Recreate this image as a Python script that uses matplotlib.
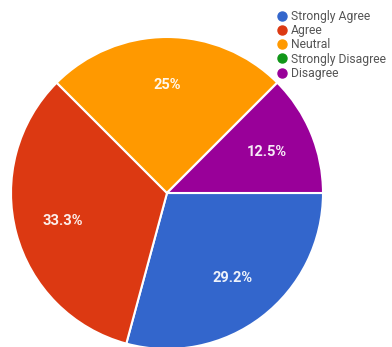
import matplotlib
matplotlib.use("Agg")
import matplotlib.pyplot as plt
from matplotlib.lines import Line2D

plt.rcParams['font.family'] = ['Roboto', 'DejaVu Sans']

categories = ["Strongly Agree", "Agree", "Neutral", "Strongly Disagree", "Disagree"]
percentages = [29.2, 33.3, 25.0, 0.0, 12.5]
colors = ["#3366CC", "#DC3912", "#FF9900", "#109618", "#990099"]

W, H = 392, 347
fig = plt.figure(figsize=(W / 100, H / 100), dpi=100)

cx, cy, r = 167, 193, 156
ax = fig.add_axes([(cx - r) / W, (H - cy - r) / H, 2 * r / W, 2 * r / H])


def fmt(p):
    return "" if p < 0.05 else f"{p:.1f}%".replace(".0%", "%")


wedges, texts, autotexts = ax.pie(
    percentages,
    colors=colors,
    startangle=0,
    counterclock=False,
    autopct=fmt,
    pctdistance=0.69,
    radius=1.0,
    wedgeprops=dict(edgecolor="white", linewidth=1.5),
    textprops=dict(color="white", fontsize=10.5, fontweight="bold"),
)
for t in autotexts:
    t.set_alpha(0.92)
ax.set_xlim(-1, 1)
ax.set_ylim(-1, 1)
ax.set_aspect("equal")
ax.axis("off")

handles = [Line2D([0], [0], marker="o", linestyle="none", markersize=6.5,
                  markerfacecolor=c, markeredgecolor=c) for c in colors]
fig.legend(handles, categories, loc="upper left",
           bbox_to_anchor=(277 / W, 1 - 10 / H), frameon=False,
           fontsize=8.7, handlelength=0.8, handletextpad=0.35,
           labelspacing=0.1, borderaxespad=0, borderpad=0,
           labelcolor="#555555")

fig.savefig("out.png", dpi=100)
